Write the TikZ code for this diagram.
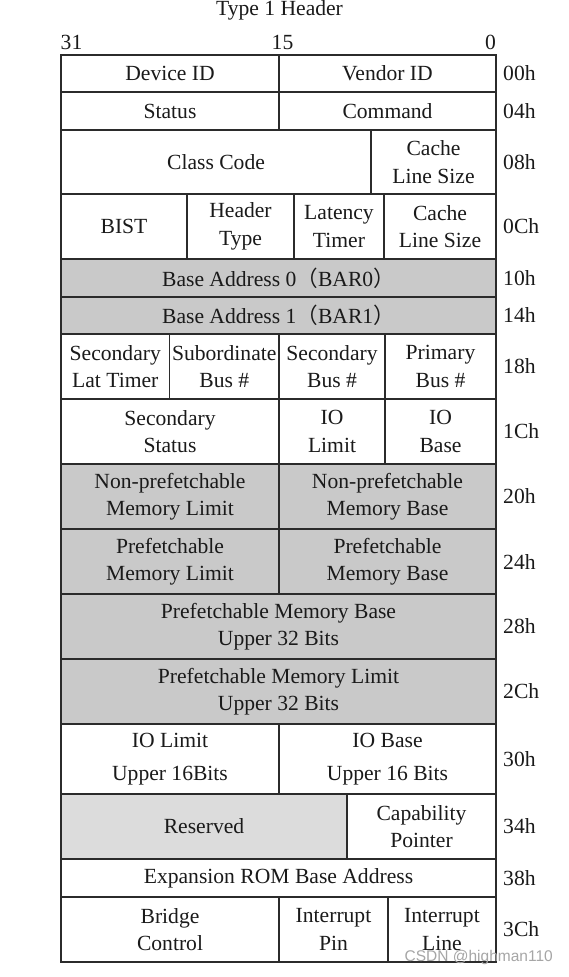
\documentclass[tikz,border=0pt]{standalone}
\usepackage{fontspec}
\setmainfont{Liberation Serif}
\newfontfamily\cjkfont{Noto Sans CJK SC}
\newfontfamily\wmfont{Liberation Sans}
\usetikzlibrary{calc}
\definecolor{linec}{HTML}{2B2B2B}
\definecolor{textc}{HTML}{1A1A1A}
\definecolor{grayA}{HTML}{C9C9C9}
\definecolor{grayB}{HTML}{DCDCDC}
\tikzset{
  grid line/.style={draw=linec, line width=1.6pt},
  cell text/.style={align=center, text=textc, inner sep=0pt,
    font=\fontsize{21.6}{27.5}\selectfont},
  darkcell/.style={fill=grayA},
  lightcell/.style={fill=grayB},
  plaincell/.style={fill=white},
  offset label/.style={anchor=west, text=textc, inner sep=0pt,
    font=\fontsize{21.6}{26}\selectfont},
  bit label/.style={text=textc, inner sep=0pt,
    font=\fontsize{21.6}{26}\selectfont},
}
\newcommand\regcell[7]{%
  \path[grid line,#6] (#2,#3) rectangle (#4,#5);
  \node[cell text] (#1) at ($(#2,#3)!0.5!(#4,#5)$) {#7};}
\begin{document}
\begin{tikzpicture}[x=1pt,y=-1pt]
\useasboundingbox[fill=white] (0,0) rectangle (568,977);
% title and bit numbers
\node[bit label, anchor=base] (title) at (279.5,15) {Type 1 Header};
\node[bit label, anchor=base west] (b31) at (60.5,49) {31};
\node[bit label, anchor=base west] (b15) at (271.5,49) {15};
\node[bit label, anchor=base east] (b0) at (496,49) {0};
% 00h
\regcell{dev}{61}{55}{279}{92}{plaincell}{Device ID}
\regcell{ven}{279}{55}{496}{92}{plaincell}{Vendor ID}
% 04h
\regcell{stat}{61}{92}{279}{130}{plaincell}{Status}
\regcell{cmd}{279}{92}{496}{130}{plaincell}{Command}
% 08h
\regcell{cls}{61}{130}{371}{194}{plaincell}{Class Code}
\regcell{cacheA}{371}{130}{496}{194}{plaincell}{Cache\\Line Size}
% 0Ch
\regcell{bist}{61}{194}{187}{259}{plaincell}{BIST}
\regcell{htype}{187}{194}{294}{259}{plaincell}{Header\\Type}
\regcell{lat}{294}{194}{384}{259}{plaincell}{Latency\\Timer}
\regcell{cacheB}{384}{194}{496}{259}{plaincell}{Cache\\Line Size}
% 10h, 14h
\regcell{bar0}{61}{259}{496}{297}{darkcell}{Base Address 0{\cjkfont （}BAR0{\cjkfont ）}}
\regcell{bar1}{61}{297}{496}{334}{darkcell}{Base Address 1{\cjkfont （}BAR1{\cjkfont ）}}
% 18h
\regcell{seclat}{61}{334}{169.5}{399}{plaincell}{Secondary\\Lat Timer}
\regcell{subbus}{169.5}{334}{279}{399}{plaincell}{Subordinate\\Bus \#}
\regcell{secbus}{279}{334}{385}{399}{plaincell}{Secondary\\Bus \#}
\regcell{pribus}{385}{334}{496}{399}{plaincell}{Primary\\Bus \#}
% 1Ch
\regcell{secstat}{61}{399}{279}{464}{plaincell}{Secondary\\Status}
\regcell{iolim}{279}{399}{385}{464}{plaincell}{IO\\Limit}
\regcell{iobase}{385}{399}{496}{464}{plaincell}{IO\\Base}
% 20h
\regcell{nplim}{61}{464}{279}{529}{darkcell}{Non-prefetchable\\Memory Limit}
\regcell{npbase}{279}{464}{496}{529}{darkcell}{Non-prefetchable\\Memory Base}
% 24h
\regcell{plim}{61}{529}{279}{594}{darkcell}{Prefetchable\\Memory Limit}
\regcell{pbase}{279}{529}{496}{594}{darkcell}{Prefetchable\\Memory Base}
% 28h, 2Ch
\regcell{pbaseup}{61}{594}{496}{659}{darkcell}{Prefetchable Memory Base\\Upper 32 Bits}
\regcell{plimup}{61}{659}{496}{724}{darkcell}{Prefetchable Memory Limit\\Upper 32 Bits}
% 30h
\regcell{iolimup}{61}{724}{279}{794}{plaincell}{IO Limit\\[5pt]Upper 16Bits}
\regcell{iobaseup}{279}{724}{496}{794}{plaincell}{IO Base\\[5pt]Upper 16 Bits}
% 34h
\regcell{rsvd}{61}{794}{347}{859}{lightcell}{Reserved}
\regcell{capptr}{347}{794}{496}{859}{plaincell}{Capability\\Pointer}
% 38h
\regcell{exprom}{61}{859}{496}{897}{plaincell}{Expansion ROM Base Address}
% 3Ch
\regcell{bridge}{61}{897}{279}{962}{plaincell}{Bridge\\Control}
\regcell{intpin}{279}{897}{388}{962}{plaincell}{Interrupt\\Pin}
\regcell{intline}{388}{897}{496}{962}{plaincell}{Interrupt\\Line}
% offsets
\node[offset label] (o00) at (503,73.5) {00h};
\node[offset label] (o04) at (503,111) {04h};
\node[offset label] (o08) at (503,162) {08h};
\node[offset label] (o0C) at (503,226.5) {0Ch};
\node[offset label] (o10) at (503,278) {10h};
\node[offset label] (o14) at (503,315.5) {14h};
\node[offset label] (o18) at (503,366.5) {18h};
\node[offset label] (o1C) at (503,431.5) {1Ch};
\node[offset label] (o20) at (503,496.5) {20h};
\node[offset label] (o24) at (503,561.5) {24h};
\node[offset label] (o28) at (503,626.5) {28h};
\node[offset label] (o2C) at (503,691.5) {2Ch};
\node[offset label] (o30) at (503,759) {30h};
\node[offset label] (o34) at (503,826.5) {34h};
\node[offset label] (o38) at (503,878) {38h};
\node[offset label] (o3C) at (503,929.5) {3Ch};
% watermark
\node[anchor=base east, inner sep=0pt, text=gray!70,
  font=\wmfont\fontsize{15.5}{18}\selectfont] (wm) at (553,961) {CSDN @highman110};
\end{tikzpicture}
\end{document}
